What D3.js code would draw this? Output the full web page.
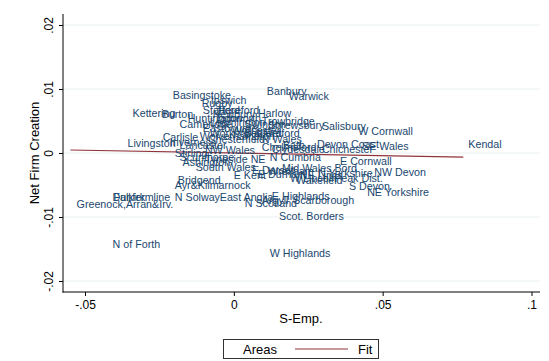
<!DOCTYPE html>
<html>
<head>
<meta charset="utf-8">
<script src="https://cdn.jsdelivr.net/npm/d3@7"></script>
<style>
  html, body { margin: 0; padding: 0; background: #fff; }
  svg { display: block; font-family: "Liberation Sans", Arial, sans-serif; }
</style>
</head>
<body>
<svg id="chart" width="549" height="361"></svg>
<script>
// Area names with their S-Emp. (x) and Net Firm Creation (y) values
const areas = [
  "Banbury", "Warwick", "Basingstoke", "Ipswich", "Rugby", "Kettering", "Burton",
  "Stafford", "Hereford", "Newbury", "Harlow", "Huntingdon", "Tamworth", "Trowbridge",
  "Cambridge", "Leamington", "Shrewsbury", "Swindon", "Salisbury", "Eastbourne",
  "W Cornwall", "Worksop & Retford", "Wolverhampton", "Carlisle", "Chesterfield",
  "N Wales", "Livingston", "Inverness", "Lancaster", "Bath", "Devon Coast", "SE Wales",
  "Chichester", "Clydesdale", "Chelmsford", "NW Wales", "Stirling", "Scunthorpe",
  "Tyneside NE", "N Cumbria", "Ashington", "E Cornwall", "South Wales", "Mid Wales Bord",
  "NW Devon", "N Yorkshire", "E Kent", "E Durham", "W Lincoln", "Peak Dist.", "NE Lincs",
  "S Devon", "NE Yorkshire", "Bridgend", "Ayr&Kilmarnock", "Dunfermline", "Falkirk",
  "N Solway", "Greenock,Arran&Irv.", "N of Forth", "East Anglia", "E Highlands",
  "N Scotland", "Scarborough", "Argyll", "Scot. Borders", "W Highlands", "Kendal",
  "E Dorset", "Wrexham", "Wakefield", "Worcester", "Bedford"
];
const sEmp = [
  0.0094, 0.0168, -0.0222, -0.0094, -0.0125, -0.0357, -0.0259,
  -0.0121, -0.0071, -0.0088, 0.0064, -0.0172, -0.0081, 0.0077,
  -0.0199, -0.0098, 0.0098, 0.0020, 0.0279, -0.0121,
  0.0401, -0.0098, -0.0131, -0.0256, -0.0104,
  0.0077, -0.0374, -0.0232, -0.0199, 0.0148, 0.0263, 0.0414,
  0.0279, 0.0111, 0.0077, -0.0114, -0.0215, -0.0199,
  -0.0114, 0.0104, -0.0189, 0.0340, -0.0145, 0.0145,
  0.0455, 0.0266, -0.0017, 0.0064, 0.0172, 0.0320, 0.0205,
  0.0370, 0.0431, -0.0205, -0.0215, -0.0424, -0.0421,
  -0.0215, -0.0545, -0.0424, -0.0064, 0.0111,
  0.0020, 0.0182, 0.0077, 0.0135, 0.0104, 0.0771,
  0.0044, 0.0098, 0.0192, -0.0024, 0.0017
];
const netFirm = [
  0.0097, 0.0089, 0.0091, 0.0083, 0.0078, 0.0063, 0.0061,
  0.0067, 0.0067, 0.0061, 0.0063, 0.0055, 0.0055, 0.0050,
  0.0045, 0.0048, 0.0044, 0.0045, 0.0042, 0.0039,
  0.0034, 0.0031, 0.0027, 0.0025, 0.0022,
  0.0022, 0.0016, 0.0017, 0.0013, 0.0013, 0.0014, 0.0011,
  0.0006, 0.0006, 0.0009, 0.0005, 0.0000, -0.0006,
  -0.0009, -0.0006, -0.0014, -0.0013, -0.0022, -0.0023,
  -0.0030, -0.0031, -0.0034, -0.0033, -0.0039, -0.0039, -0.0034,
  -0.0052, -0.0061, -0.0042, -0.0050, -0.0069, -0.0069,
  -0.0069, -0.0080, -0.0142, -0.0069, -0.0067,
  -0.0078, -0.0073, -0.0073, -0.0098, -0.0156, 0.0014,
  -0.0027, -0.0028, -0.0042, 0.0036, 0.0031
];

// Fitted line endpoints
const fitX = [-0.0549, 0.0771];
const fitY = [0.00047, -0.00063];

// Axis ticks
const xTicks = [-0.05, 0, 0.05, 0.1];
const xTickLabels = ["-.05", "0", ".05", ".1"];
const yTicks = [-0.02, -0.01, 0, 0.01, 0.02];
const yTickLabels = ["-.02", "-.01", "0", ".01", ".02"];

const svg = d3.select("#chart");
const plot = { left: 63, right: 540, top: 14, bottom: 292 };

const x = d3.scaleLinear().domain([-0.05, 0.1]).range([85, 531.5]);
const y = d3.scaleLinear().domain([-0.02, 0.02]).range([281, 25]);

const labelColor = "#1a476f";
const fitColor = "#90353b";

// Horizontal gridlines
svg.append("g")
  .selectAll("line")
  .data(yTicks)
  .join("line")
  .attr("x1", plot.left).attr("x2", plot.right)
  .attr("y1", d => y(d)).attr("y2", d => y(d))
  .attr("stroke", "#eaf0f2").attr("stroke-width", 1);

// Y axis
const yAxis = d3.axisLeft(y).tickValues(yTicks)
  .tickFormat((d, i) => yTickLabels[i]).tickSize(4).tickSizeOuter(0);
const gy = svg.append("g").attr("transform", `translate(${plot.left},0)`).call(yAxis);
gy.select(".domain").remove();
gy.append("line").attr("x1", 0).attr("x2", 0)
  .attr("y1", plot.top).attr("y2", plot.bottom + 0.5)
  .attr("stroke", "#000");
gy.selectAll(".tick line").attr("stroke", "#000");
gy.selectAll(".tick text")
  .attr("x", 0).attr("dy", null)
  .attr("transform", "translate(-10,0) rotate(-90)")
  .attr("text-anchor", "middle")
  .attr("fill", "#000")
  .style("font-size", "12px")
  .style("font-family", "'Liberation Sans', Arial, sans-serif");

// X axis
const xAxis = d3.axisBottom(x).tickValues(xTicks)
  .tickFormat((d, i) => xTickLabels[i]).tickSize(4).tickSizeOuter(0);
const gx = svg.append("g").attr("transform", `translate(0,${plot.bottom})`).call(xAxis);
gx.select(".domain").remove();
gx.append("line").attr("x1", plot.left - 0.5).attr("x2", plot.right)
  .attr("y1", 0).attr("y2", 0).attr("stroke", "#000");
gx.selectAll(".tick line").attr("stroke", "#000");
gx.selectAll(".tick text")
  .attr("y", 8).attr("fill", "#000")
  .style("font-size", "12px")
  .style("font-family", "'Liberation Sans', Arial, sans-serif");

// Axis titles
svg.append("text")
  .attr("transform", "translate(39,153) rotate(-90)")
  .attr("text-anchor", "middle")
  .style("font-size", "13px")
  .text("Net Firm Creation");
svg.append("text")
  .attr("x", 301).attr("y", 323)
  .attr("text-anchor", "middle")
  .style("font-size", "13px")
  .text("S-Emp.");

// Fitted line
svg.append("line")
  .attr("x1", x(fitX[0])).attr("y1", y(fitY[0]))
  .attr("x2", x(fitX[1])).attr("y2", y(fitY[1]))
  .attr("stroke", fitColor).attr("stroke-width", 1.2);

// Area labels, placed to the right of each point
svg.append("g")
  .selectAll("text")
  .data(areas.map((name, i) => ({ name, sx: sEmp[i], ny: netFirm[i] })))
  .join("text")
  .attr("x", d => x(d.sx) + 5)
  .attr("y", d => y(d.ny))
  .attr("dy", "0.36em")
  .attr("fill", labelColor)
  .style("font-size", "10.7px")
  .text(d => d.name);

// Legend
const lg = svg.append("g");
lg.append("rect")
  .attr("x", 223.5).attr("y", 339.5).attr("width", 155).attr("height", 19)
  .attr("fill", "#fff").attr("stroke", "#333");
lg.append("text").attr("x", 243).attr("y", 354).style("font-size", "13px").text("Areas");
lg.append("line").attr("x1", 295).attr("x2", 348).attr("y1", 349).attr("y2", 349)
  .attr("stroke", fitColor).attr("stroke-width", 1.2);
lg.append("text").attr("x", 358).attr("y", 354).style("font-size", "13px").text("Fit");
</script>
</body>
</html>
